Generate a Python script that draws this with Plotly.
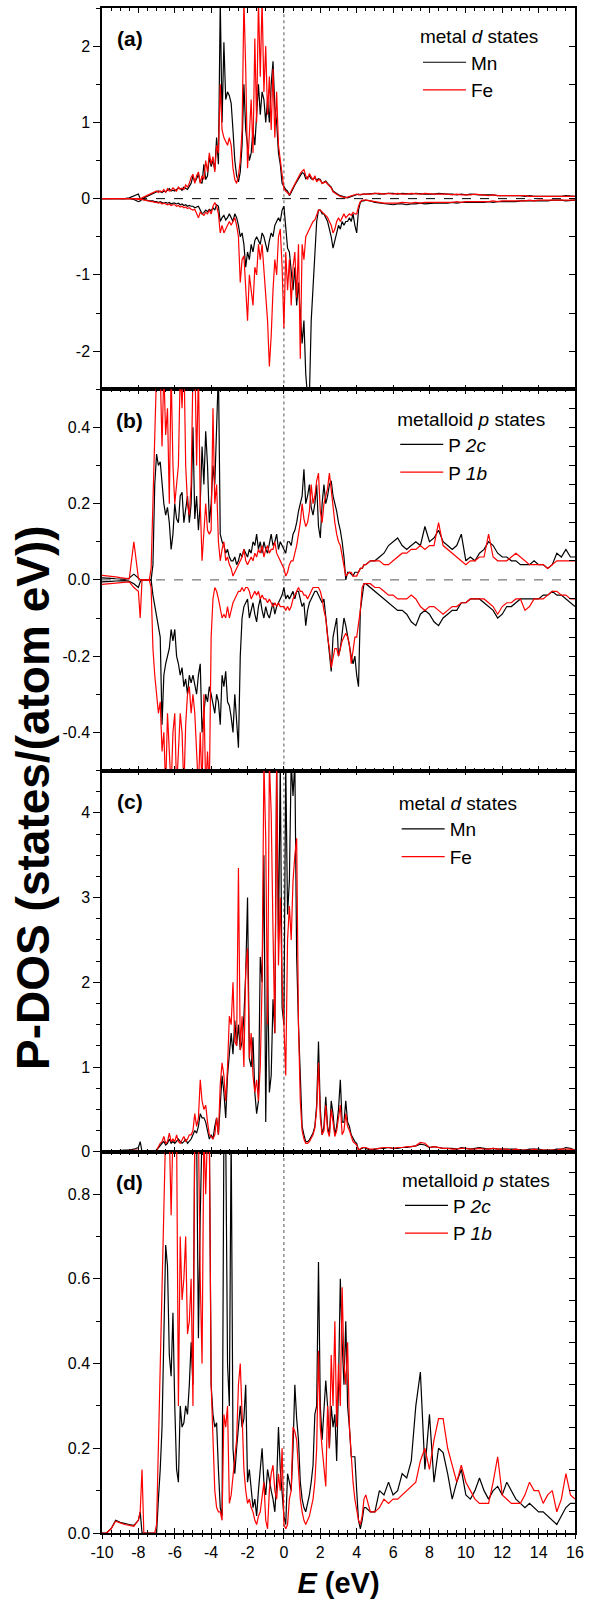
import numpy as np
import plotly.graph_objects as go

# ---------------- energy grid (eV) ----------------
E_LOW = [-10.0, -9.75, -9.5, -9.25, -9.0, -8.75, -8.5, -8.25]
E_MID = np.round(np.arange(-8.0, 4.45, 0.1), 2).tolist()      # -8.0 .. 4.4
E_HIGH = np.round(np.arange(4.5, 16.01, 0.25), 2).tolist()    # 4.5 .. 16.0
energy = E_LOW + E_MID + E_HIGH


def join(name, low, rows, high):
    vals = list(low) + [v for r in rows for v in r] + list(high)
    if len(vals) != len(energy):
        raise ValueError(f"{name}: {len(vals)} values, expected {len(energy)}")
    return vals

# ---------------- panel (a): metal d states, spin up / down ----------------
a_mn_up = join("a_mn_up", [0, 0, 0, 0, 0, 0, 0.01, 0.03], [
    [0.06, 0.0, 0.0, 0.01, 0.02, 0.03, 0.04, 0.06, 0.07, 0.08],
    [0.09, 0.1, 0.09, 0.08, 0.1, 0.09, 0.11, 0.13, 0.1, 0.11],
    [0.1, 0.12, 0.14, 0.13, 0.11, 0.15, 0.13, 0.12, 0.16, 0.2],
    [0.3, 0.22, 0.26, 0.32, 0.22, 0.2, 0.45, 0.25, 0.3, 0.55],
    [0.42, 0.5, 0.38, 0.8, 0.45, 2.6, 1.0, 2.05, 1.3, 1.4],
    [1.35, 1.25, 0.9, 0.5, 0.3, 0.22, 0.35, 0.7, 1.5, 0.9],
    [0.7, 0.5, 0.6, 0.9, 0.7, 1.2, 1.5, 1.1, 1.4, 1.3],
    [1.0, 1.3, 1.0, 1.5, 1.8, 1.2, 1.0, 0.6, 0.45, 0.2],
    [0.15, 0.12, 0.1, 0.04, 0.08, 0.14, 0.18, 0.22, 0.26, 0.3],
    [0.34, 0.33, 0.26, 0.28, 0.3, 0.26, 0.25, 0.28, 0.24, 0.26],
    [0.25, 0.2, 0.22, 0.23, 0.2, 0.18, 0.15, 0.1, 0.08, 0.06],
    [0.05, 0.04, 0.03, 0.02, 0.01, 0.01, 0.02, 0.03, 0.04, 0.05],
    [0.06, 0.06, 0.05, 0.06, 0.06]], [
    0.06, 0.07,
    0.07, 0.06, 0.07, 0.07, 0.07, 0.06, 0.07, 0.06, 0.06, 0.07, 0.06, 0.06,
    0.06, 0.06, 0.07, 0.06, 0.06, 0.06, 0.05, 0.06, 0.05, 0.06, 0.05, 0.05,
    0.05, 0.05, 0.05, 0.04, 0.04, 0.04, 0.04, 0.04, 0.04, 0.03, 0.04, 0.03,
    0.03, 0.03, 0.03, 0.03, 0.03, 0.03, 0.04, 0.03,
    0.03])

a_fe_up = join("a_fe_up", [0, 0, 0, 0, 0, 0, 0, 0], [
    [0.0, 0.0, 0.01, 0.02, 0.03, 0.04, 0.05, 0.06, 0.07, 0.09],
    [0.1, 0.08, 0.1, 0.09, 0.12, 0.08, 0.13, 0.1, 0.11, 0.14],
    [0.12, 0.1, 0.15, 0.12, 0.14, 0.12, 0.18, 0.15, 0.2, 0.28],
    [0.32, 0.2, 0.3, 0.35, 0.2, 0.3, 0.25, 0.5, 0.35, 0.6],
    [0.45, 0.55, 0.35, 0.7, 0.6, 1.5, 0.9, 0.8, 0.75, 0.7],
    [0.8, 0.7, 0.4, 0.25, 0.2, 0.3, 0.5, 0.9, 2.6, 1.7],
    [0.4, 0.8, 1.3, 0.6, 2.1, 1.0, 2.6, 1.6, 2.6, 1.4],
    [2.0, 1.1, 1.6, 0.9, 1.7, 0.8, 1.4, 0.7, 0.5, 0.25],
    [0.13, 0.1, 0.08, 0.05, 0.1, 0.15, 0.2, 0.25, 0.28, 0.33],
    [0.36, 0.38, 0.3, 0.25, 0.33, 0.28, 0.24, 0.3, 0.22, 0.25],
    [0.24, 0.2, 0.21, 0.22, 0.19, 0.17, 0.14, 0.09, 0.07, 0.05],
    [0.04, 0.03, 0.02, 0.01, 0.01, 0.02, 0.03, 0.04, 0.05, 0.05],
    [0.06, 0.05, 0.06, 0.06, 0.06]], [
    0.06, 0.06,
    0.07, 0.07, 0.06, 0.07, 0.06, 0.07, 0.06, 0.06, 0.07, 0.06, 0.06, 0.07,
    0.06, 0.06, 0.06, 0.06, 0.06, 0.05, 0.06, 0.05, 0.05, 0.05, 0.06, 0.05,
    0.05, 0.04, 0.05, 0.04, 0.04, 0.04, 0.04, 0.04, 0.04, 0.04, 0.03, 0.03,
    0.03, 0.03, 0.03, 0.03, 0.03, 0.03, 0.03, 0.03,
    0.03])

a_mn_dn = join("a_mn_dn", [0, 0, 0, 0, 0, 0, 0, -0.01], [
    [-0.04, -0.03, -0.01, -0.01, -0.02, -0.02, -0.03, -0.03, -0.03, -0.04],
    [-0.04, -0.05, -0.04, -0.05, -0.06, -0.05, -0.06, -0.05, -0.07, -0.06],
    [-0.06, -0.07, -0.06, -0.08, -0.07, -0.09, -0.08, -0.1, -0.09, -0.1],
    [-0.1, -0.12, -0.11, -0.1, -0.15, -0.2, -0.18, -0.15, -0.17, -0.14],
    [-0.16, -0.12, -0.15, -0.08, -0.1, -0.3, -0.25, -0.22, -0.28, -0.25],
    [-0.2, -0.25, -0.3, -0.2, -0.25, -0.35, -0.5, -0.45, -0.6, -0.9],
    [-0.7, -0.8, -0.6, -0.7, -0.55, -0.5, -0.55, -0.6, -0.45, -0.5],
    [-0.6, -0.7, -0.55, -0.45, -0.5, -0.35, -0.3, -0.25, -0.3, -0.15],
    [-0.1, -0.35, -0.65, -0.7, -0.95, -1.2, -0.9, -1.4, -1.1, -1.5],
    [-1.9, -1.6, -2.3, -2.6, -2.6, -1.6, -1.2, -0.8, -0.3, -0.15],
    [-0.15, -0.2, -0.2, -0.25, -0.3, -0.4, -0.5, -0.65, -0.55, -0.45],
    [-0.35, -0.4, -0.3, -0.35, -0.3, -0.3, -0.25, -0.3, -0.2, -0.35],
    [-0.45, -0.15, -0.05, -0.03, -0.03]], [
    -0.02, -0.03,
    -0.05, -0.06, -0.07, -0.08, -0.08, -0.07, -0.07, -0.08, -0.07, -0.07, -0.06, -0.07,
    -0.06, -0.06, -0.06, -0.06, -0.06, -0.05, -0.06, -0.05, -0.05, -0.05, -0.05, -0.05,
    -0.05, -0.04, -0.05, -0.04, -0.04, -0.04, -0.04, -0.04, -0.03, -0.03, -0.03, -0.03,
    -0.03, -0.03, -0.03, -0.02, -0.02, -0.02, -0.03, -0.02,
    -0.02])

a_fe_dn = join("a_fe_dn", [0, 0, 0, 0, 0, 0, 0, 0], [
    [-0.01, -0.01, -0.01, -0.02, -0.02, -0.03, -0.03, -0.04, -0.04, -0.05],
    [-0.05, -0.06, -0.05, -0.07, -0.06, -0.07, -0.08, -0.07, -0.09, -0.08],
    [-0.08, -0.1, -0.09, -0.11, -0.1, -0.12, -0.11, -0.13, -0.12, -0.14],
    [-0.15, -0.14, -0.2, -0.25, -0.18, -0.2, -0.22, -0.18, -0.2, -0.15],
    [-0.2, -0.1, -0.05, -0.1, -0.2, -0.45, -0.35, -0.45, -0.4, -0.35],
    [-0.3, -0.35, -0.3, -0.25, -0.35, -0.5, -1.1, -0.8, -0.75, -1.2],
    [-1.6, -1.0, -1.2, -1.4, -0.9, -1.0, -0.6, -0.8, -0.6, -0.9],
    [-1.3, -1.6, -2.2, -1.8, -1.2, -0.8, -1.0, -0.5, -0.4, -0.9],
    [-1.7, -0.7, -1.2, -0.8, -1.4, -0.9, -0.7, -1.3, -0.6, -2.1],
    [-0.6, -0.8, -0.5, -0.45, -0.4, -0.35, -0.3, -0.28, -0.22, -0.15],
    [-0.15, -0.18, -0.2, -0.22, -0.25, -0.3, -0.35, -0.45, -0.4, -0.3],
    [-0.25, -0.3, -0.25, -0.2, -0.25, -0.22, -0.2, -0.22, -0.18, -0.2],
    [-0.2, -0.1, -0.04, -0.02, -0.02]], [
    -0.02, -0.03,
    -0.04, -0.05, -0.06, -0.06, -0.06, -0.06, -0.05, -0.06, -0.06, -0.05, -0.06, -0.05,
    -0.05, -0.05, -0.05, -0.05, -0.05, -0.05, -0.04, -0.05, -0.04, -0.04, -0.04, -0.04,
    -0.04, -0.04, -0.03, -0.04, -0.03, -0.03, -0.03, -0.03, -0.03, -0.03, -0.02, -0.03,
    -0.02, -0.02, -0.02, -0.02, -0.02, -0.02, -0.02, -0.02,
    -0.02])

# ---------------- panel (b): metalloid p states, spin up / down ----------------
b_p2c_up = join("b_p2c_up", [0.005, 0.005, 0.004, 0.003, 0.002, 0.002, 0.005, 0.015], [
    [0.005, 0.0, 0.0, 0.0, 0.0, 0.0, 0.0, 0.0, 0.04, 0.25],
    [0.33, 0.3, 0.31, 0.25, 0.2, 0.17, 0.19, 0.15, 0.08, 0.12],
    [0.2, 0.16, 0.15, 0.22, 0.23, 0.15, 0.18, 0.22, 0.15, 0.2],
    [0.4, 0.16, 0.22, 0.13, 0.2, 0.35, 0.25, 0.39, 0.3, 0.15],
    [0.2, 0.3, 0.25, 0.4, 0.55, 0.12, 0.1, 0.09, 0.07, 0.08],
    [0.06, 0.05, 0.05, 0.06, 0.04, 0.05, 0.07, 0.06, 0.08, 0.07],
    [0.06, 0.08, 0.07, 0.1, 0.09, 0.12, 0.08, 0.1, 0.07, 0.1],
    [0.08, 0.07, 0.1, 0.12, 0.09, 0.1, 0.12, 0.08, 0.1, 0.09],
    [0.08, 0.07, 0.1, 0.1, 0.09, 0.12, 0.13, 0.15, 0.18, 0.2],
    [0.22, 0.29, 0.2, 0.22, 0.25, 0.19, 0.17, 0.2, 0.25, 0.14],
    [0.11, 0.2, 0.25, 0.2, 0.22, 0.25, 0.26, 0.22, 0.2, 0.18],
    [0.15, 0.13, 0.1, 0.06, 0.0, 0.02, 0.02, 0.015, 0.01, 0.02],
    [0.02, 0.02, 0.03, 0.03, 0.04]], [
    0.04, 0.05,
    0.05, 0.06, 0.07, 0.09, 0.1, 0.11, 0.09, 0.08, 0.09, 0.1, 0.09, 0.14,
    0.1, 0.11, 0.13, 0.1, 0.09, 0.08, 0.09, 0.12, 0.05, 0.06, 0.05, 0.07,
    0.08, 0.1, 0.09, 0.07, 0.06, 0.06, 0.05, 0.05, 0.04, 0.04, 0.04, 0.05,
    0.04, 0.04, 0.03, 0.04, 0.07, 0.06, 0.08, 0.06,
    0.06])

b_p1b_up = join("b_p1b_up", [0.012, 0.011, 0.01, 0.008, 0.006, 0.004, 0.003, 0.1], [
    [0.005, 0.0, 0.0, 0.0, 0.0, 0.0, 0.0, 0.03, 0.2, 0.42],
    [0.55, 0.6, 0.55, 0.35, 0.55, 0.38, 0.45, 0.2, 0.55, 0.3],
    [0.2, 0.25, 0.3, 0.55, 0.45, 0.6, 0.3, 0.2, 0.17, 0.25],
    [0.55, 0.6, 0.3, 0.55, 0.2, 0.05, 0.13, 0.2, 0.13, 0.12],
    [0.13, 0.45, 0.2, 0.25, 0.1, 0.05, 0.08, 0.1, 0.05, 0.06],
    [0.04, 0.03, 0.01, 0.02, 0.03, 0.04, 0.05, 0.06, 0.08, 0.05],
    [0.04, 0.05, 0.06, 0.05, 0.07, 0.06, 0.08, 0.07, 0.09, 0.06],
    [0.08, 0.09, 0.07, 0.08, 0.08, 0.1, 0.07, 0.06, 0.05, 0.04],
    [0.03, 0.01, 0.02, 0.04, 0.05, 0.05, 0.07, 0.09, 0.12, 0.15],
    [0.2, 0.16, 0.14, 0.15, 0.18, 0.25, 0.2, 0.22, 0.26, 0.28],
    [0.18, 0.15, 0.2, 0.22, 0.24, 0.28, 0.23, 0.18, 0.15, 0.12],
    [0.1, 0.09, 0.06, 0.03, 0.01, 0.015, 0.02, 0.02, 0.01, 0.01],
    [0.01, 0.02, 0.03, 0.03, 0.04]], [
    0.04, 0.05,
    0.05, 0.05, 0.04, 0.04, 0.05, 0.06, 0.07, 0.07, 0.08, 0.08, 0.09, 0.08,
    0.09, 0.09, 0.15, 0.09, 0.08, 0.07, 0.06, 0.05, 0.04, 0.05, 0.05, 0.06,
    0.06, 0.12, 0.06, 0.05, 0.05, 0.05, 0.06, 0.07, 0.06, 0.05, 0.04, 0.04,
    0.04, 0.04, 0.03, 0.04, 0.05, 0.05, 0.05, 0.05,
    0.05])

b_p2c_dn = join("b_p2c_dn", [-0.005, -0.005, -0.004, -0.003, -0.002, -0.002, -0.004, -0.01], [
    [-0.02, -0.005, 0.0, 0.0, 0.0, 0.0, 0.0, 0.0, -0.04, -0.07],
    [-0.1, -0.12, -0.15, -0.38, -0.25, -0.22, -0.2, -0.18, -0.13, -0.16],
    [-0.13, -0.2, -0.22, -0.25, -0.23, -0.28, -0.26, -0.3, -0.25, -0.27],
    [-0.25, -0.28, -0.3, -0.25, -0.22, -0.4, -0.35, -0.3, -0.32, -0.28],
    [-0.3, -0.33, -0.35, -0.3, -0.32, -0.38, -0.25, -0.28, -0.24, -0.32],
    [-0.33, -0.36, -0.4, -0.3, -0.36, -0.44, -0.2, -0.1, -0.07, -0.06],
    [-0.05, -0.1, -0.08, -0.06, -0.09, -0.11, -0.07, -0.05, -0.08, -0.1],
    [-0.07, -0.09, -0.1, -0.08, -0.06, -0.09, -0.07, -0.06, -0.05, -0.04],
    [-0.02, -0.05, -0.04, -0.05, -0.04, -0.03, -0.05, -0.03, -0.03, -0.05],
    [-0.07, -0.06, -0.12, -0.08, -0.06, -0.05, -0.04, -0.03, -0.03, -0.04],
    [-0.05, -0.06, -0.05, -0.1, -0.15, -0.18, -0.24, -0.15, -0.12, -0.1],
    [-0.2, -0.18, -0.14, -0.1, -0.12, -0.15, -0.18, -0.2, -0.22, -0.2],
    [-0.25, -0.28, -0.08, -0.04, -0.01]], [
    -0.01, -0.02,
    -0.03, -0.04, -0.05, -0.06, -0.07, -0.08, -0.08, -0.09, -0.11, -0.12, -0.09, -0.08,
    -0.09, -0.11, -0.12, -0.1, -0.09, -0.08, -0.08, -0.06, -0.06, -0.05, -0.05, -0.05,
    -0.06, -0.07, -0.08, -0.1, -0.09, -0.07, -0.07, -0.06, -0.05, -0.05, -0.05, -0.05,
    -0.05, -0.04, -0.04, -0.03, -0.04, -0.04, -0.05, -0.06,
    -0.07])

b_p1b_dn = join("b_p1b_dn", [-0.012, -0.011, -0.01, -0.009, -0.008, -0.007, -0.005, -0.02], [
    [-0.03, -0.1, 0.0, 0.0, 0.0, 0.0, 0.0, -0.02, -0.18, -0.25],
    [-0.3, -0.35, -0.32, -0.45, -0.4, -0.55, -0.35, -0.45, -0.55, -0.4],
    [-0.35, -0.55, -0.45, -0.35, -0.4, -0.55, -0.38, -0.3, -0.28, -0.35],
    [-0.3, -0.35, -0.45, -0.55, -0.4, -0.55, -0.3, -0.55, -0.45, -0.55],
    [-0.15, -0.05, -0.02, -0.03, -0.05, -0.08, -0.1, -0.09, -0.1, -0.07],
    [-0.1, -0.08, -0.06, -0.05, -0.04, -0.03, -0.03, -0.02, -0.03, -0.02],
    [-0.02, -0.03, -0.05, -0.04, -0.03, -0.04, -0.03, -0.05, -0.04, -0.05],
    [-0.05, -0.06, -0.05, -0.06, -0.07, -0.06, -0.07, -0.06, -0.07, -0.07],
    [-0.07, -0.08, -0.07, -0.08, -0.07, -0.05, -0.04, -0.03, -0.02, -0.03],
    [-0.03, -0.04, -0.04, -0.05, -0.04, -0.03, -0.02, -0.02, -0.02, -0.02],
    [-0.03, -0.05, -0.08, -0.1, -0.15, -0.18, -0.23, -0.2, -0.18, -0.18],
    [-0.2, -0.18, -0.16, -0.15, -0.14, -0.15, -0.17, -0.22, -0.18, -0.15],
    [-0.15, -0.12, -0.08, -0.02, -0.01]], [
    -0.01, -0.01,
    -0.02, -0.02, -0.03, -0.04, -0.04, -0.05, -0.05, -0.05, -0.04, -0.05, -0.07, -0.08,
    -0.07, -0.07, -0.08, -0.09, -0.08, -0.07, -0.07, -0.06, -0.06, -0.05, -0.05, -0.05,
    -0.05, -0.06, -0.07, -0.09, -0.07, -0.06, -0.06, -0.05, -0.05, -0.08, -0.07, -0.05,
    -0.05, -0.05, -0.04, -0.03, -0.03, -0.04, -0.04, -0.05,
    -0.05])

# ---------------- panel (c): metal d states (non spin-polarised) ----------------
c_mn = join("c_mn", [0.0, 0.005, 0.01, 0.01, 0.015, 0.02, 0.02, 0.03], [
    [0.05, 0.12, 0.0, 0.0, 0.0, 0.0, 0.0, 0.0, 0.0, 0.0],
    [0.02, 0.05, 0.07, 0.1, 0.12, 0.08, 0.1, 0.15, 0.1, 0.12],
    [0.1, 0.12, 0.15, 0.12, 0.1, 0.12, 0.15, 0.1, 0.12, 0.15],
    [0.2, 0.25, 0.22, 0.3, 0.45, 0.4, 0.4, 0.35, 0.25, 0.15],
    [0.2, 0.15, 0.3, 0.4, 0.2, 0.6, 0.9, 0.7, 0.4, 0.9],
    [1.2, 1.4, 1.15, 1.55, 1.25, 1.5, 1.2, 1.3, 1.6, 2.1],
    [3.0, 1.1, 1.0, 1.35, 0.7, 0.45, 0.6, 2.3, 2.0, 3.5],
    [0.35, 2.2, 0.7, 0.9, 1.8, 1.4, 4.6, 2.5, 4.6, 1.7],
    [1.5, 4.6, 2.8, 3.2, 4.6, 4.2, 4.6, 2.3, 1.5, 0.8],
    [0.3, 0.2, 0.12, 0.12, 0.14, 0.18, 0.22, 0.3, 0.55, 1.3],
    [0.5, 0.2, 0.3, 0.65, 0.3, 0.2, 0.6, 0.45, 0.2, 0.3],
    [0.5, 0.85, 0.35, 0.35, 0.6, 0.35, 0.3, 0.2, 0.15, 0.12],
    [0.1, 0.02, 0.03, 0.04, 0.05]], [
    0.04, 0.02,
    0.03, 0.04, 0.04, 0.05, 0.04, 0.04, 0.05, 0.05, 0.06, 0.07, 0.09, 0.08,
    0.05, 0.06, 0.05, 0.04, 0.04, 0.04, 0.03, 0.05, 0.04, 0.03, 0.04, 0.05,
    0.04, 0.03, 0.04, 0.03, 0.03, 0.03, 0.03, 0.03, 0.02, 0.02, 0.03, 0.03,
    0.03, 0.02, 0.02, 0.02, 0.03, 0.03, 0.05, 0.04,
    0.02])

c_fe = join("c_fe", [0.0, 0.005, 0.008, 0.01, 0.01, 0.012, 0.015, 0.015], [
    [0.02, 0.01, 0.0, 0.0, 0.0, 0.0, 0.0, 0.0, 0.0, 0.0],
    [0.02, 0.06, 0.1, 0.12, 0.18, 0.1, 0.12, 0.22, 0.12, 0.15],
    [0.12, 0.2, 0.12, 0.1, 0.15, 0.18, 0.12, 0.15, 0.2, 0.2],
    [0.25, 0.45, 0.3, 0.4, 0.85, 0.6, 0.5, 0.55, 0.35, 0.2],
    [0.18, 0.15, 0.2, 0.4, 0.2, 0.8, 1.05, 0.9, 0.6, 1.0],
    [1.6, 1.5, 2.0, 1.3, 1.25, 3.35, 1.2, 1.6, 1.0, 2.15],
    [2.4, 1.1, 1.4, 0.9, 0.7, 0.85, 0.6, 1.0, 2.0, 4.6],
    [3.7, 1.5, 4.6, 4.0, 2.6, 1.4, 4.6, 2.2, 3.0, 2.0],
    [1.5, 0.9, 2.5, 2.9, 2.5, 3.2, 3.5, 3.7, 1.5, 0.6],
    [0.25, 0.15, 0.1, 0.1, 0.12, 0.16, 0.2, 0.28, 0.5, 1.05],
    [0.4, 0.2, 0.25, 0.55, 0.25, 0.18, 0.5, 0.35, 0.18, 0.25],
    [0.4, 0.55, 0.2, 0.25, 0.45, 0.3, 0.25, 0.18, 0.12, 0.1],
    [0.08, 0.02, 0.04, 0.05, 0.05]], [
    0.05, 0.03,
    0.03, 0.04, 0.05, 0.05, 0.04, 0.05, 0.05, 0.06, 0.06, 0.07, 0.11, 0.1,
    0.05, 0.06, 0.05, 0.04, 0.04, 0.03, 0.03, 0.04, 0.04, 0.03, 0.03, 0.04,
    0.03, 0.03, 0.04, 0.03, 0.03, 0.03, 0.02, 0.03, 0.02, 0.02, 0.02, 0.03,
    0.02, 0.02, 0.02, 0.02, 0.02, 0.03, 0.03, 0.03,
    0.02])

# ---------------- panel (d): metalloid p states (non spin-polarised) ----------------
d_p2c = join("d_p2c", [0.0, 0.0, 0.01, 0.03, 0.025, 0.022, 0.02, 0.018], [
    [0.03, 0.05, 0.0, 0.0, 0.0, 0.0, 0.0, 0.0, 0.0, 0.0],
    [0.0, 0.08, 0.15, 0.25, 0.5, 0.68, 0.63, 0.42, 0.37, 0.52],
    [0.3, 0.15, 0.12, 0.3, 0.25, 0.26, 0.3, 0.28, 0.35, 0.45],
    [0.35, 0.95, 0.95, 0.46, 0.75, 0.95, 0.95, 0.95, 0.95, 0.95],
    [0.35, 0.28, 0.25, 0.26, 0.15, 0.06, 0.04, 0.95, 0.95, 0.4],
    [0.3, 0.95, 0.2, 0.14, 0.2, 0.25, 0.3, 0.25, 0.27, 0.35],
    [0.12, 0.15, 0.1, 0.06, 0.08, 0.04, 0.1, 0.15, 0.2, 0.12],
    [0.09, 0.15, 0.12, 0.1, 0.08, 0.05, 0.12, 0.25, 0.15, 0.1],
    [0.04, 0.02, 0.14, 0.12, 0.1, 0.2, 0.35, 0.27, 0.22, 0.12],
    [0.08, 0.06, 0.05, 0.07, 0.09, 0.12, 0.16, 0.28, 0.3, 0.64],
    [0.3, 0.22, 0.3, 0.36, 0.3, 0.2, 0.3, 0.25, 0.28, 0.17],
    [0.35, 0.6, 0.45, 0.35, 0.5, 0.3, 0.25, 0.18, 0.18, 0.18],
    [0.1, 0.03, 0.01, 0.03, 0.06]], [
    0.06, 0.05,
    0.05, 0.1, 0.09, 0.12, 0.09, 0.1, 0.14, 0.13, 0.17, 0.3, 0.38, 0.15,
    0.28, 0.12, 0.2, 0.19, 0.14, 0.08, 0.12, 0.15, 0.09, 0.08, 0.1, 0.13,
    0.1, 0.08, 0.1, 0.11, 0.09, 0.12, 0.1, 0.08, 0.07, 0.06, 0.07, 0.06,
    0.05, 0.05, 0.04, 0.03, 0.02, 0.04, 0.06, 0.07,
    0.07])

d_p1b = join("d_p1b", [0.0, 0.0, 0.01, 0.028, 0.024, 0.02, 0.018, 0.016], [
    [0.03, 0.05, 0.15, 0.0, 0.0, 0.0, 0.0, 0.0, 0.0, 0.0],
    [0.02, 0.2, 0.45, 0.6, 0.8, 0.95, 0.95, 0.95, 0.75, 0.95],
    [0.95, 0.95, 0.3, 0.7, 0.55, 0.6, 0.7, 0.47, 0.5, 0.6],
    [0.3, 0.95, 0.95, 0.95, 0.6, 0.4, 0.95, 0.8, 0.95, 0.95],
    [0.35, 0.2, 0.1, 0.06, 0.05, 0.05, 0.03, 0.28, 0.25, 0.3],
    [0.07, 0.09, 0.14, 0.18, 0.22, 0.35, 0.4, 0.28, 0.15, 0.1],
    [0.07, 0.08, 0.06, 0.05, 0.03, 0.02, 0.04, 0.05, 0.08, 0.12],
    [0.03, 0.01, 0.1, 0.14, 0.16, 0.1, 0.08, 0.14, 0.1, 0.2],
    [0.02, 0.01, 0.02, 0.08, 0.1, 0.25, 0.24, 0.22, 0.15, 0.08],
    [0.05, 0.03, 0.02, 0.03, 0.04, 0.06, 0.08, 0.12, 0.2, 0.43],
    [0.25, 0.2, 0.15, 0.11, 0.3, 0.2, 0.42, 0.3, 0.5, 0.25],
    [0.4, 0.3, 0.58, 0.4, 0.35, 0.45, 0.25, 0.18, 0.12, 0.08],
    [0.05, 0.03, 0.02, 0.04, 0.08]], [
    0.09, 0.05,
    0.05, 0.06, 0.08, 0.07, 0.08, 0.08, 0.09, 0.1, 0.11, 0.12, 0.17, 0.2,
    0.15, 0.22, 0.27, 0.27, 0.2, 0.16, 0.12, 0.16, 0.12, 0.1, 0.08, 0.07,
    0.07, 0.07, 0.12, 0.18, 0.09, 0.08, 0.07, 0.07, 0.07, 0.09, 0.12, 0.1,
    0.1, 0.07, 0.09, 0.1, 0.05, 0.08, 0.14, 0.09,
    0.08])

# ---------------- axis ticks / labels ----------------
x_tickvals = [-10, -8, -6, -4, -2, 0, 2, 4, 6, 8, 10, 12, 14, 16]
x_ticktext = ["-10", "-8", "-6", "-4", "-2", "0", "2", "4", "6", "8", "10", "12", "14", "16"]
y_ranges = [[-2.5, 2.5], [-0.5, 0.5], [0, 4.5], [0, 0.9]]
y_tickvals = [[-2, -1, 0, 1, 2], [-0.4, -0.2, 0.0, 0.2, 0.4], [0, 1, 2, 3, 4], [0.0, 0.2, 0.4, 0.6, 0.8]]
y_ticktext = [["-2", "-1", "0", "1", "2"], ["-0.4", "-0.2", "0.0", "0.2", "0.4"],
              ["0", "1", "2", "3", "4"], ["0.0", "0.2", "0.4", "0.6", "0.8"]]
y_minor_left = [0.5, 0.1, 0.25, 0.1]
y_right_step = [0.5, 0.05, 0.25, 0.05]
panel_labels = ["(a)", "(b)", "(c)", "(d)"]
legend_titles = ["metal <i>d</i> states", "metalloid <i>p</i> states",
                 "metal <i>d</i> states", "metalloid <i>p</i> states"]

BLACK = "#000000"
RED = "#ff0000"
FONT = "Liberation Sans"
LW = 1.2

panel_series = [
    [("Mn", a_mn_up, BLACK, True), ("Fe", a_fe_up, RED, True),
     ("Mn", a_mn_dn, BLACK, False), ("Fe", a_fe_dn, RED, False)],
    [("P <i>2c</i>", b_p2c_up, BLACK, True), ("P <i>1b</i>", b_p1b_up, RED, True),
     ("P <i>2c</i>", b_p2c_dn, BLACK, False), ("P <i>1b</i>", b_p1b_dn, RED, False)],
    [("Mn", c_mn, BLACK, True), ("Fe", c_fe, RED, True)],
    [("P <i>2c</i>", d_p2c, BLACK, True), ("P <i>1b</i>", d_p1b, RED, True)],
]

fig = go.Figure()
legend_ids = ["legend", "legend2", "legend3", "legend4"]
# all black curves first, red curves drawn on top
for order_color in (BLACK, RED):
    for i, series in enumerate(panel_series):
        for name, vals, color, show in series:
            if color != order_color:
                continue
            fig.add_trace(go.Scatter(
                x=energy, y=vals, mode="lines", name=name,
                line=dict(color=color, width=LW),
                xaxis=f"x{i + 1}", yaxis=f"y{i + 1}",
                showlegend=show, legend=legend_ids[i], hoverinfo="skip"))

# invisible carrier trace so that the labelled bottom energy axis (x5) is drawn
fig.add_trace(go.Scatter(x=energy, y=d_p2c, mode="lines", line=dict(width=0, color="rgba(0,0,0,0)"),
                         opacity=0, xaxis="x5", yaxis="y4", showlegend=False, hoverinfo="skip"))
# invisible carriers for the right-hand y axes
for i, vals in enumerate([a_mn_up, b_p2c_up, c_mn, d_p2c]):
    fig.add_trace(go.Scatter(x=energy, y=vals, mode="lines", line=dict(width=0, color="rgba(0,0,0,0)"),
                             opacity=0, xaxis=f"x{i + 1}", yaxis=f"y{i + 5}",
                             showlegend=False, hoverinfo="skip"))

domains = [[0.75, 1.0], [0.5, 0.75], [0.25, 0.5], [0.0, 0.25]]
layout = dict(
    width=590, height=1606,
    margin=dict(l=102, r=15, t=6, b=73),
    paper_bgcolor="white", plot_bgcolor="white",
    font=dict(family=FONT, size=16, color="black"),
    showlegend=True,
)

for i in range(4):
    n = i + 1
    layout[f"xaxis{n}"] = dict(
        domain=[0, 1], anchor=f"y{n}", range=[-10, 16], autorange=False,
        showline=True, linecolor="black", linewidth=1.5, mirror="ticks",
        ticks="inside", ticklen=5, tickwidth=1.2, tickcolor="black",
        tickmode="linear", tick0=-10, dtick=2, showticklabels=False,
        showgrid=False, zeroline=False,
        minor=dict(ticks="inside", ticklen=3, tickwidth=1, tickcolor="black",
                   tickmode="linear", tick0=-10, dtick=0.5, showgrid=False),
    )
    layout[f"yaxis{n}"] = dict(
        domain=domains[i], anchor=f"x{n}", range=y_ranges[i], autorange=False,
        showline=True, linecolor="black", linewidth=1.5,
        ticks="outside", ticklen=7, tickwidth=1.2, tickcolor="black",
        tickmode="array", tickvals=y_tickvals[i], ticktext=y_ticktext[i],
        tickfont=dict(size=16, family=FONT), showgrid=False, zeroline=False,
        minor=dict(ticks="outside", ticklen=4, tickwidth=1, tickcolor="black",
                   tickmode="linear", tick0=0, dtick=y_minor_left[i], showgrid=False),
    )
    layout[f"yaxis{n + 4}"] = dict(
        overlaying=f"y{n}", anchor=f"x{n}", side="right",
        range=y_ranges[i], autorange=False,
        showline=True, linecolor="black", linewidth=1.5,
        ticks="inside", ticklen=6, tickwidth=1.2, tickcolor="black",
        tickmode="linear", tick0=0, dtick=y_right_step[i],
        showticklabels=False, showgrid=False, zeroline=False,
    )

layout["xaxis5"] = dict(
    overlaying="x4", anchor="y4", side="bottom", range=[-10, 16], autorange=False,
    showline=False, ticks="outside", ticklen=5, tickwidth=1.2, tickcolor="black",
    tickmode="array", tickvals=x_tickvals, ticktext=x_ticktext,
    tickfont=dict(size=16, family=FONT), showgrid=False, zeroline=False,
    minor=dict(ticks="outside", ticklen=3, tickwidth=1, tickcolor="black",
               tickmode="linear", tick0=-10, dtick=0.5, showgrid=False),
    title=dict(text="<b><i>E</i> (eV)</b>", font=dict(size=29, family=FONT), standoff=12),
)

legend_pos = [(0.668, 0.993), (0.620, 0.7424), (0.623, 0.4903), (0.630, 0.2434)]
for i, lid in enumerate(legend_ids):
    layout[lid] = dict(
        x=legend_pos[i][0], y=legend_pos[i][1], xanchor="left", yanchor="top",
        bgcolor="rgba(0,0,0,0)", borderwidth=0, tracegroupgap=0, itemwidth=43,
        font=dict(size=19, family=FONT, color="black"),
        title=dict(text=legend_titles[i], font=dict(size=19, family=FONT, color="black"), side="top"),
        itemclick=False, itemdoubleclick=False,
    )

shapes = []
for i in range(4):
    n = i + 1
    xr = "x" if n == 1 else f"x{n}"
    yr = "y" if n == 1 else f"y{n}"
    # Fermi level
    shapes.append(dict(type="line", xref=xr, yref=f"{yr} domain", x0=0, x1=0, y0=0, y1=1,
                       line=dict(color="#555555", width=1, dash="dot"), layer="below"))
    if n in (1, 2):
        shapes.append(dict(type="line", xref=f"{xr} domain", yref=yr, x0=0, x1=1, y0=0, y1=0,
                           line=dict(color="#000000" if n == 1 else "#555555", width=1, dash="dash"),
                           layer="below"))
layout["shapes"] = shapes

annotations = []
for i in range(4):
    n = i + 1
    xr = "x" if n == 1 else f"x{n}"
    yr = "y" if n == 1 else f"y{n}"
    annotations.append(dict(text=f"<b>{panel_labels[i]}</b>", xref=f"{xr} domain", yref=f"{yr} domain",
                            x=0.059, y=0.919, xanchor="center", yanchor="middle", showarrow=False,
                            font=dict(size=21, family=FONT, color="black")))
annotations.append(dict(text="<b>P-DOS (states/(atom eV))</b>", xref="paper", yref="paper",
                        x=-0.146, y=0.482, xanchor="center", yanchor="middle", textangle=-90,
                        showarrow=False, font=dict(size=46, family=FONT, color="black")))
layout["annotations"] = annotations

fig.update_layout(**layout)
fig.write_html("out.html")
